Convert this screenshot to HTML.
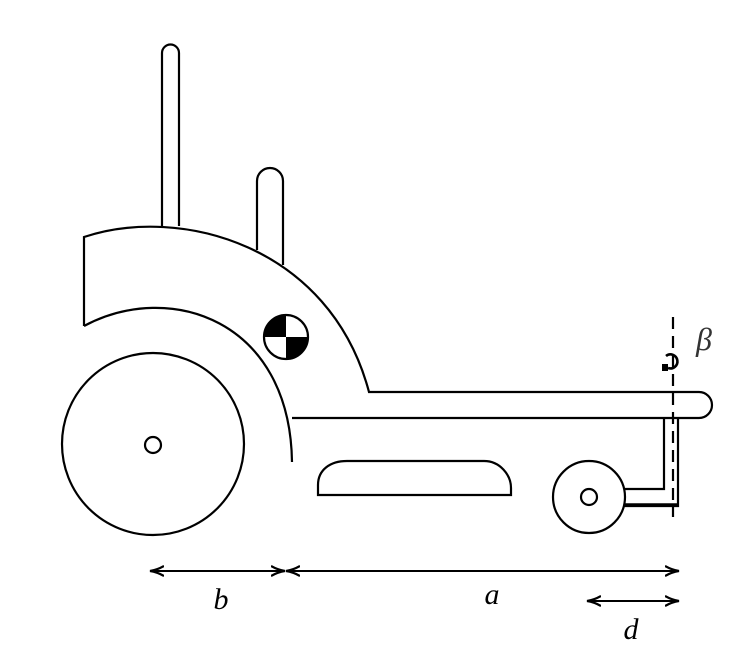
<!DOCTYPE html>
<html><head><meta charset="utf-8"><style>
html,body{margin:0;padding:0;background:#fff;}
svg{display:block;}
text{font-family:"Liberation Serif",serif;font-style:italic;}
</style></head><body>
<svg width="753" height="658" viewBox="0 0 753 658">
<defs>
<marker id="ah" markerWidth="16" markerHeight="12" refX="14" refY="6" orient="auto-start-reverse" markerUnits="userSpaceOnUse">
<path d="M0,1 Q7,5 14,6 Q7,7 0,11" fill="none" stroke="#000" stroke-width="2.2"/>
</marker>
</defs>
<g fill="none" stroke="#000" stroke-width="2.2">
<path d="M162,226 L162,53 A8.5,8.5 0 0 1 179,53 L179,226"/>
<path d="M257,250 L257,181 A13,13 0 0 1 283,181 L283,265"/>
<path d="M84,326 L84,237 C180,205 330,245 369,392 L699,392 A13,13 0 0 1 699,418 L292,418"/>
<path d="M84,326 C170,280 290,320 292,462"/>
<circle cx="153" cy="444" r="91"/>
<circle cx="153" cy="445" r="8"/>
<path d="M318,495 L318,485 C318,470 330,461 347,461 L484,461 C500,461 511,475 511,488 L511,495 Z"/>
<circle cx="589" cy="497" r="36"/>
<circle cx="589" cy="497" r="8"/>
<path d="M664,418 L664,489 L624,489 M678,418 L678,506 L624,506"/>
<path d="M624,505 L678,505" stroke-width="3.5"/>
<line x1="673" y1="317" x2="673" y2="517" stroke-dasharray="12,7"/>
<path d="M666,356 A7,7 0 1 1 668,368" stroke-width="2.6"/>
<rect x="662" y="364" width="6" height="7" fill="#000" stroke="none"/>
</g>
<g>
<circle cx="286" cy="337" r="22" fill="#fff" stroke="#000" stroke-width="2.2"/>
<path d="M286,337 L286,315 A22,22 0 0 0 264,337 Z" fill="#000"/>
<path d="M286,337 L286,359 A22,22 0 0 0 308,337 Z" fill="#000"/>
</g>
<g stroke="#000" stroke-width="2" fill="none">
<line x1="150" y1="571" x2="285" y2="571" marker-start="url(#ah)" marker-end="url(#ah)"/>
<line x1="286" y1="571" x2="679" y2="571" marker-start="url(#ah)" marker-end="url(#ah)"/>
<line x1="587" y1="601" x2="679" y2="601" marker-start="url(#ah)" marker-end="url(#ah)"/>
</g>
<text x="221" y="609" font-size="30" text-anchor="middle">b</text>
<text x="492" y="604" font-size="30" text-anchor="middle">a</text>
<text x="631" y="639" font-size="30" text-anchor="middle">d</text>
<text x="704" y="350" font-size="32" text-anchor="middle" fill="#333">β</text>
</svg>
</body></html>
